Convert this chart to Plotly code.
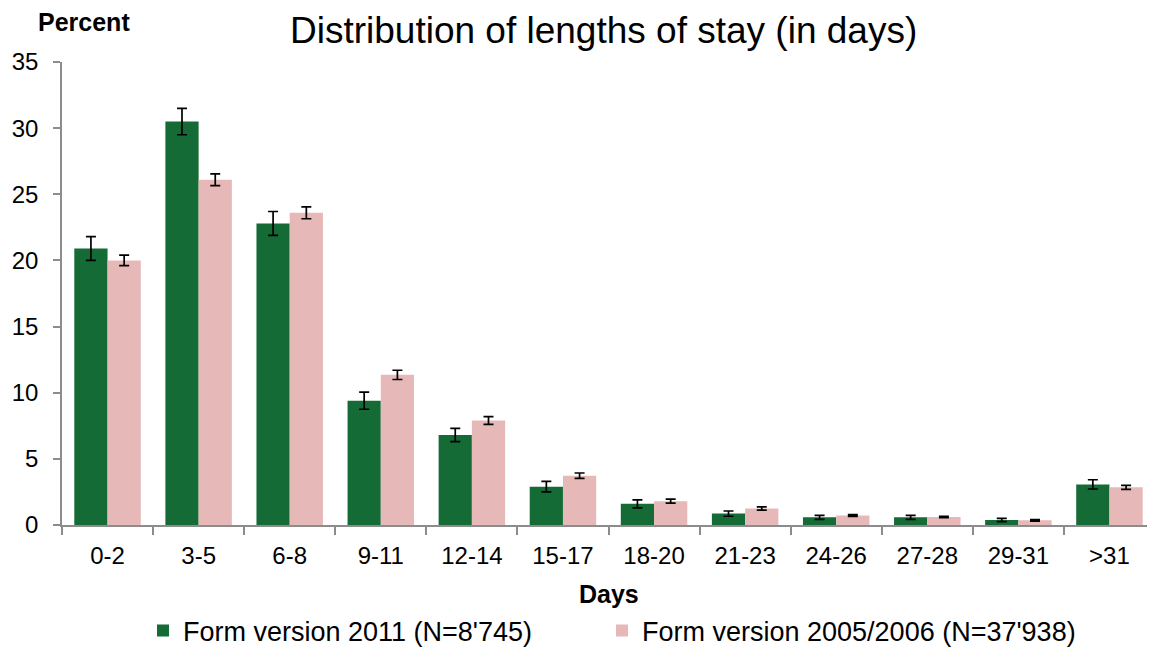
import plotly.graph_objects as go

days = ["0-2", "3-5", "6-8", "9-11", "12-14", "15-17", "18-20",
        "21-23", "24-26", "27-28", "29-31", ">31"]

pct_2011 = [20.9, 30.5, 22.8, 9.4, 6.8, 2.9, 1.6, 0.86, 0.58, 0.58, 0.38, 3.07]
err_2011 = [0.9, 1.0, 0.9, 0.65, 0.5, 0.4, 0.3, 0.2, 0.15, 0.15, 0.12, 0.35]

pct_2005 = [20.0, 26.1, 23.6, 11.35, 7.9, 3.73, 1.8, 1.25, 0.72, 0.6, 0.35, 2.85]
err_2005 = [0.4, 0.45, 0.45, 0.35, 0.3, 0.2, 0.15, 0.12, 0.07, 0.05, 0.05, 0.15]

font = "Liberation Sans, Arial, sans-serif"

# the page body has an 8px margin, so the figure is 8px smaller than the window
OFF = 8
W, H = 1155 - OFF, 648 - OFF
L, R, T, B = 62 - OFF, 0, 62 - OFF, 648 - 525

fig = go.Figure()

fig.add_trace(go.Bar(
    x=days, y=pct_2011,
    name="Form version 2011 (N=8'745)",
    marker=dict(color="#156b36", line=dict(width=0)),
    error_y=dict(type="data", array=err_2011, color="black", thickness=1.7, width=5),
    legend="legend",
))

fig.add_trace(go.Bar(
    x=days, y=pct_2005,
    name="Form version 2005/2006 (N=37'938)",
    marker=dict(color="#e6b9b8", line=dict(width=0)),
    error_y=dict(type="data", array=err_2005, color="black", thickness=1.7, width=5),
    legend="legend2",
))


def px(x, y):
    # screen pixel position -> paper coords
    x, y = x - OFF, y - OFF
    return (x - L) / (W - L - R), (H - B - y) / (H - T - B)


title_x, title_y = px(603, 30)
pct_x, pct_y = px(84, 22)
days_x, days_y = px(609, 594)
leg1_x, leg_y = px(143, 631)
leg2_x, _ = px(602, 631)

legend_style = dict(orientation="h", xanchor="left", y=leg_y, yanchor="middle",
                    font=dict(size=27), itemwidth=30, bgcolor="rgba(0,0,0,0)")

fig.update_layout(
    width=W, height=H,
    margin=dict(l=L, r=R, t=T, b=B, autoexpand=False),
    paper_bgcolor="white",
    plot_bgcolor="white",
    font=dict(family=font, size=24, color="black"),
    barmode="group",
    bargap=0.27,
    bargroupgap=0,
    showlegend=True,
    legend=dict(x=leg1_x, **legend_style),
    legend2=dict(x=leg2_x, **legend_style),
    annotations=[
        dict(text="Distribution of lengths of stay (in days)", x=title_x, y=title_y,
             xref="paper", yref="paper", showarrow=False, xanchor="center", yanchor="middle",
             font=dict(size=37)),
        dict(text="<b>Percent</b>", x=pct_x, y=pct_y, xref="paper", yref="paper",
             showarrow=False, xanchor="center", yanchor="middle", font=dict(size=25)),
        dict(text="<b>Days</b>", x=days_x, y=days_y, xref="paper", yref="paper",
             showarrow=False, xanchor="center", yanchor="middle", font=dict(size=25)),
    ],
)

fig.update_xaxes(
    automargin=False,
    showline=True, linecolor="#8c8c8c", linewidth=1.5,
    ticks="outside", tickson="boundaries", ticklen=8, tickcolor="#8c8c8c", tickwidth=1.5,
    ticklabelstandoff=8,
    showgrid=False,
)

fig.update_yaxes(
    automargin=False,
    range=[0, 35], dtick=5,
    showline=True, linecolor="#8c8c8c", linewidth=1.5,
    ticks="outside", ticklen=7, tickcolor="#8c8c8c", tickwidth=1.5,
    ticklabelstandoff=10,
    showgrid=False, zeroline=False,
)

fig.write_html("out.html")
